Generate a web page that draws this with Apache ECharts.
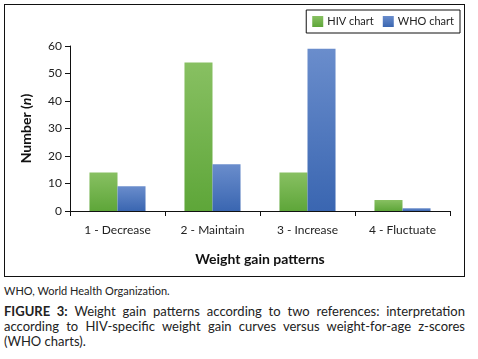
<!DOCTYPE html>
<html>
<head>
<meta charset="utf-8">
<script src="https://cdn.jsdelivr.net/npm/echarts@6/dist/echarts.min.js"></script>
<style>
    body { margin: 0; background: #fff; font-family: Lato, sans-serif; }
    #box { position: absolute; left: 4px; top: 4px; width: 459px; height: 271px; border: 1.3px solid #111; }
    #chart { width: 459px; height: 271px; }
    #abbr { position: absolute; left: 4px; top: 284px; font-size: 11px; color: #222; }
    #caption { position: absolute; left: 4px; top: 304px; width: 461px; font-size: 13px; line-height: 15px;
               color: #222; text-align: justify; }
    #caption b { color: #222; }
</style>
</head>
<body>
<div id="box"><div id="chart"></div></div>
<div id="abbr">WHO, World Health Organization.</div>
<div id="caption"><b>FIGURE 3:</b> Weight gain patterns according to two references: interpretation according to HIV-specific weight gain curves versus weight-for-age z-scores (WHO charts).</div>
<script>
    // categories and values
    const categories = ['1 - Decrease', '2 - Maintain', '3 - Increase', '4 - Fluctuate'];
    const hivChart = [14, 54, 14, 4];
    const whoChart = [9, 17, 59, 1];
    const yTicks = [0, 10, 20, 30, 40, 50, 60];

    function grad(top, bottom) {
        return new echarts.graphic.LinearGradient(0, 0, 0, 1, [
            {offset: 0, color: top},
            {offset: 1, color: bottom}
        ]);
    }

    let myChart = echarts.init(document.getElementById('chart'));

    let option = {
        animation: false,
        textStyle: {fontFamily: 'Lato', color: '#222'},
        legend: {
            right: 4,
            top: 5,
            itemWidth: 11,
            itemHeight: 11,
            itemGap: 9,
            padding: [6, 6, 6, 6],
            borderColor: '#111',
            borderWidth: 1,
            icon: 'rect',
            textStyle: {fontSize: 11, color: '#222', fontFamily: 'Lato', padding: [0, 0, 0, -1]},
            data: ['HIV chart', 'WHO chart']
        },
        grid: {left: 65, right: 14, top: 41, bottom: 65},
        xAxis: {
            type: 'category',
            data: categories,
            name: 'Weight gain patterns',
            nameLocation: 'middle',
            nameGap: 41,
            nameTextStyle: {fontSize: 14, fontWeight: 'bold', color: '#111'},
            axisLine: {lineStyle: {color: '#111', width: 1}},
            axisTick: {show: true, length: 5, lineStyle: {color: '#111'}},
            axisLabel: {fontSize: 12, color: '#222', margin: 13}
        },
        yAxis: {
            type: 'value',
            min: yTicks[0],
            max: yTicks[yTicks.length - 1],
            interval: 10,
            name: '{b|Number (}{i|n}{b|)}',
            nameLocation: 'middle',
            nameGap: 37,
            nameTextStyle: {
                rich: {
                    b: {fontSize: 14, fontWeight: 'bold', color: '#111', fontFamily: 'Lato'},
                    i: {fontSize: 14, fontWeight: 'bold', fontStyle: 'italic', color: '#111', fontFamily: 'Lato'}
                }
            },
            axisLine: {show: true, lineStyle: {color: '#111', width: 1}},
            axisTick: {show: true, length: 5, lineStyle: {color: '#111'}},
            axisLabel: {fontSize: 12, color: '#222', margin: 8},
            splitLine: {show: false}
        },
        series: [
            {
                name: 'HIV chart',
                type: 'bar',
                data: hivChart,
                barGap: '0%',
                barCategoryGap: '41%',
                itemStyle: {color: grad('#88c062', '#5ea639')}
            },
            {
                name: 'WHO chart',
                type: 'bar',
                data: whoChart,
                itemStyle: {color: grad('#6a8dcc', '#3a66b1')}
            }
        ]
    };

    myChart.setOption(option);
</script>
</body>
</html>
